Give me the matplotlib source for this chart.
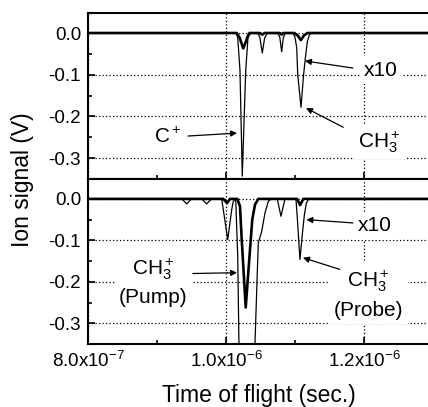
import matplotlib
matplotlib.use('Agg')
import matplotlib.pyplot as plt
import numpy as np
from matplotlib.ticker import MultipleLocator, FixedLocator

plt.rcParams['font.family'] = ['Liberation Sans', 'DejaVu Sans']
plt.rcParams['mathtext.fontset'] = 'custom'
plt.rcParams['mathtext.rm'] = 'Liberation Sans'
plt.rcParams['mathtext.it'] = 'Liberation Sans:italic'
plt.rcParams['mathtext.default'] = 'regular'
plt.rcParams['axes.unicode_minus'] = False

# time axis in microseconds (converted to seconds when plotted), signal in volts
# upper panel, x10 trace
top_x10_t = [0.80, 1.014, 1.0170, 1.0203, 1.0236, 1.0286, 1.0319, 1.036,
             1.046, 1.049, 1.0526, 1.056, 1.060,
             1.075, 1.078, 1.0807, 1.083, 1.086,
             1.097, 1.100, 1.1025, 1.1040, 1.1087, 1.1125, 1.1150, 1.1180, 1.121, 1.124, 1.30]
top_x10_v = [0, 0, -0.01, -0.09, -0.343, -0.09, -0.01, 0,
             0, -0.01, -0.048, -0.012, 0,
             0, -0.01, -0.045, -0.012, 0,
             0, -0.01, -0.035, -0.10, -0.178, -0.10, -0.06, -0.02, -0.004, 0, 0]
# upper panel, x1 trace
top_x1_t = [0.80, 1.0155, 1.020, 1.025, 1.0290, 1.0315, 1.034,
            1.049, 1.0526, 1.056, 1.078, 1.0807, 1.083,
            1.099, 1.104, 1.1085, 1.113, 1.118, 1.30]
top_x1_v = [0, 0, -0.012, -0.037, -0.02, -0.008, 0,
            0, -0.004, 0, 0, -0.004, 0,
            0, -0.006, -0.017, -0.006, 0, 0]

# lower panel, x10 trace
bot_x10_t = [0.80, 0.936, 0.943, 0.950, 0.965, 0.972, 0.979,
             0.9938, 1.0025, 1.0083, 1.0106, 1.0141, 1.0170, 1.0188, 1.030,
             1.0420, 1.0468, 1.0517, 1.0565, 1.0613, 1.0652,
             1.0743, 1.0797, 1.0855,
             1.1014, 1.1034, 1.1072, 1.1110, 1.1135, 1.1165, 1.120, 1.30]
bot_x10_v = [0, 0, -0.012, 0, 0, -0.012, 0,
             0, -0.098, -0.026, -0.006, 0, -0.138, -0.35, -1.5,
             -0.35, -0.106, -0.079, -0.034, -0.006, 0,
             0, -0.042, 0,
             0, -0.046, -0.146, -0.08, -0.04, -0.01, 0, 0]
# lower panel, x1 trace
bot_x1_t = [0.80, 0.996, 1.0015, 1.006, 1.0164, 1.0203, 1.0228, 1.0286,
            1.0323, 1.0381, 1.0420, 1.0468, 1.103, 1.1075, 1.112, 1.30]
bot_x1_v = [0, 0, -0.01, 0, 0, -0.018, -0.098, -0.262,
            -0.178, -0.050, -0.014, 0, 0, -0.015, 0, 0]

yticks = [0.0, -0.1, -0.2, -0.3]
ylabels = ['0.0', '-0.1', '-0.2', '-0.3']
xticks = [0.8e-6, 1.0e-6, 1.2e-6]
xlabels = ['8.0x10$^{-7}$', '1.0x10$^{-6}$', '1.2x10$^{-6}$']

fig = plt.figure(figsize=(4.28, 4.07), dpi=100)
ax1 = fig.add_axes([0.2056, 0.5602, 0.806, 0.4079])
ax2 = fig.add_axes([0.2056, 0.1548, 0.806, 0.4054])

panels = [(ax1, top_x10_t, top_x10_v, top_x1_t, top_x1_v),
          (ax2, bot_x10_t, bot_x10_v, bot_x1_t, bot_x1_v)]
for ax, t10, v10, t1, v1 in panels:
    ax.plot(np.array(t10) * 1e-6, v10, color='k', lw=0.9)
    ax.plot(np.array(t1) * 1e-6, v1, color='k', lw=1.9)
    ax.set_xlim(0.8e-6, 1.3e-6)
    ax.set_ylim(-0.35, 0.048)
    ax.set_yticks(yticks)
    ax.set_yticklabels(ylabels)
    ax.yaxis.set_minor_locator(MultipleLocator(0.05))
    ax.set_xticks(xticks)
    ax.xaxis.set_minor_locator(FixedLocator([0.9e-6, 1.1e-6]))
    ax.tick_params(which='both', direction='in', width=1.2, labelsize=13.5, pad=5)
    ax.tick_params(which='major', length=5)
    ax.tick_params(which='minor', length=3)
    ax.set_axisbelow(True)
    ax.grid(True, which='major', color='k', ls=(0, (1, 1.8)), lw=0.9)
    for s in ax.spines.values():
        s.set_linewidth(1.5)

ax1.set_xticklabels([])
ax2.set_xticklabels(xlabels)

box = dict(fc='white', ec='none', pad=3)
arrow = dict(arrowstyle='-|>', color='k', lw=0.9, mutation_scale=9, shrinkA=0, shrinkB=0)

# upper panel labels
ax1.text(0.916e-6, -0.25, 'C$^+$', fontsize=15, ha='center', va='center', bbox=box)
ax1.annotate('', xy=(1.016e-6, -0.240), xytext=(0.945e-6, -0.247), arrowprops=arrow)
ax1.text(1.2246e-6, -0.089, 'x10', fontsize=15, ha='center', va='center', bbox=box)
ax1.annotate('', xy=(1.1145e-6, -0.067), xytext=(1.184e-6, -0.084), arrowprops=arrow)
ax1.text(1.222e-6, -0.262, 'CH$_3^+$', fontsize=15, ha='center', va='center', bbox=box)
ax1.annotate('', xy=(1.116e-6, -0.180), xytext=(1.170e-6, -0.226), arrowprops=arrow)

# lower panel labels
ax2.text(0.895e-6, -0.20, 'CH$_3^+$\n(Pump)', fontsize=15, ha='center', va='center',
         multialignment='center', linespacing=1.45, bbox=box)
ax2.annotate('', xy=(1.016e-6, -0.178), xytext=(0.952e-6, -0.180), arrowprops=arrow)
ax2.text(1.216e-6, -0.065, 'x10', fontsize=15, ha='center', va='center', bbox=box)
ax2.annotate('', xy=(1.1165e-6, -0.050), xytext=(1.184e-6, -0.058), arrowprops=arrow)
ax2.text(1.207e-6, -0.23, 'CH$_3^+$\n(Probe)', fontsize=15, ha='center', va='center',
         multialignment='center', linespacing=1.45, bbox=box)
ax2.annotate('', xy=(1.1116e-6, -0.142), xytext=(1.165e-6, -0.170), arrowprops=arrow)

fig.text(23 / 428, 1 - 180 / 407, 'Ion signal (V)', rotation=90, ha='center', va='center',
         fontsize=16.5)
fig.text(258.5 / 428, 5 / 407, 'Time of flight (sec.)', ha='center', va='baseline',
         fontsize=16.5)

fig.savefig('out.png', dpi=100)
